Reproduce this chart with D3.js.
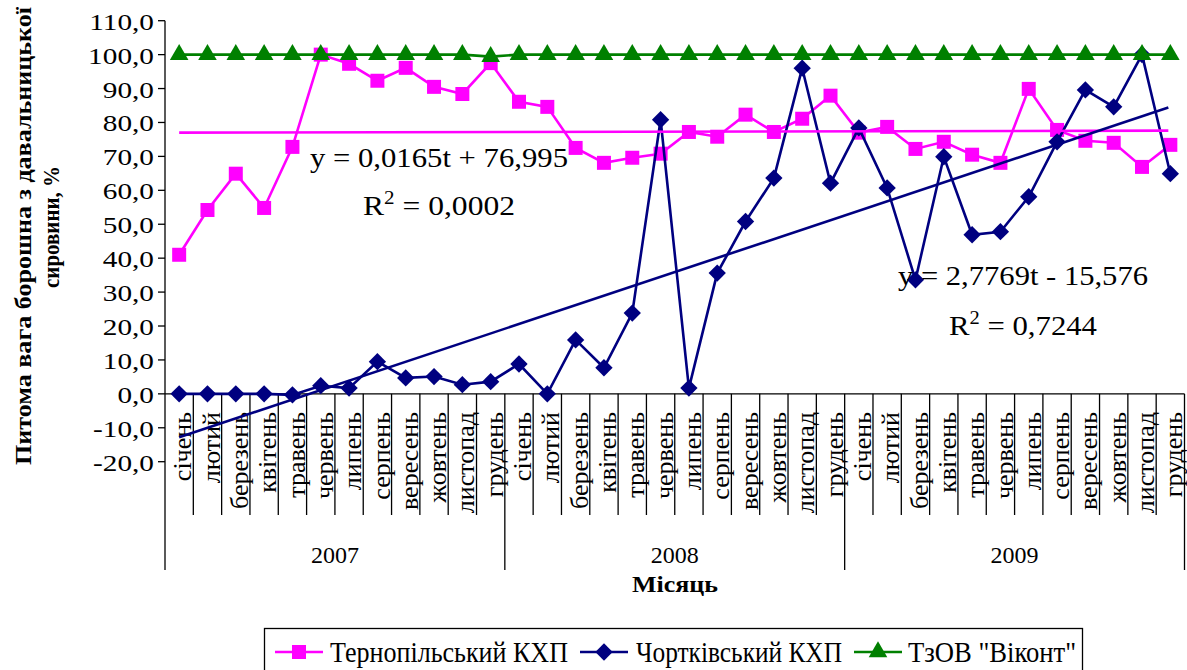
<!DOCTYPE html>
<html>
<head>
<meta charset="utf-8">
<script src="https://cdn.jsdelivr.net/npm/d3@7"></script>
<style>
  html, body { margin: 0; padding: 0; background: #fff; }
  svg { display: block; }
  svg text { font-family: "Liberation Serif", "Tinos", "DejaVu Serif", "Noto Serif", serif; }
</style>
</head>
<body>
<svg id="chart" width="1187" height="670"></svg>
<script>
// ---------------- data ----------------
const months = ["січень","лютий","березень","квітень","травень","червень","липень","серпень","вересень","жовтень","листопад","грудень"];
const years = ["2007","2008","2009"];
const yTicks = [-20,-10,0,10,20,30,40,50,60,70,80,90,100,110];

const ternopil = [41.0,54.2,64.9,54.8,72.8,100.0,97.3,92.3,96.1,90.5,88.4,97.5,
                  86.1,84.6,72.5,68.1,69.6,70.8,77.2,75.8,82.3,77.2,81.1,87.9,
                  77.0,78.7,72.2,74.3,70.5,68.1,89.9,77.8,74.6,74.0,66.9,73.4];
const chortkiv = [0.0,0.0,0.0,0.0,-0.3,2.4,1.7,9.5,4.7,5.1,2.7,3.6,
                  8.8,0.0,15.9,7.7,23.8,80.8,1.7,35.6,50.8,63.6,96.0,62.1,
                  78.4,60.7,33.6,69.9,46.9,47.8,58.1,74.3,89.6,84.6,100.0,64.9];
const vikont   = [100,100,100,100,100,100,100,100,100,100,100,99.4,
                  100,100,100,100,100,100,100,100,100,100,100,100,
                  100,100,100,100,100,100,100,100,100,100,100,100];

const seriesNames = ["Тернопільський КХП","Чортківський КХП","ТзОВ \"Віконт\""];
// printed trend equations y = a*t + b
const trendTernopil = {a: 0.0165, b: 76.995, eq: "y = 0,0165t + 76,995", r2: "0,0002"};
const trendChortkiv = {a: 2.7769, b: -15.576, eq: "y = 2,7769t - 15,576", r2: "0,7244"};

// ---------------- layout ----------------
const svg = d3.select("#chart");
const L = 165, R = 1184.5, T = 20.7, B = 461.7;
const cats = d3.range(months.length * years.length);
const x = d3.scaleBand().domain(cats).range([L, R]).padding(0);
const cx = i => x(i) + x.bandwidth() / 2;
const y = d3.scaleLinear().domain([-20, 110]).range([B, T]);
const fmt = v => d3.format(".1f")(v).replace(".", ",").replace("\u2212", "-");

const colors = {t: "#FF00FF", c: "#000080", v: "#008000"};

// ---------------- axes ----------------
const g = svg.append("g");
g.append("line").attr("x1", L).attr("x2", L).attr("y1", T).attr("y2", 570)
  .attr("stroke", "#000").attr("stroke-width", 1.3);
const yAxisG = g.append("g");
yTicks.forEach(v => {
  yAxisG.append("line").attr("x1", L - 7).attr("x2", L).attr("y1", y(v)).attr("y2", y(v))
    .attr("stroke", "#000").attr("stroke-width", 1.3);
  yAxisG.append("text")
    .attr("transform", `translate(154,${y(v) + 9}) scale(1.22,1)`)
    .attr("text-anchor", "end").attr("font-size", 24).attr("fill", "#000")
    .text(fmt(v));
});
const y0 = y(0);
g.append("line").attr("x1", L).attr("x2", R).attr("y1", y0).attr("y2", y0)
  .attr("stroke", "#000").attr("stroke-width", 1.3);
cats.forEach(i => {
  if (i === 0) return;
  const isYear = i % 12 === 0;
  g.append("line").attr("x1", x(i)).attr("x2", x(i)).attr("y1", y0).attr("y2", isYear ? 570 : 515)
    .attr("stroke", "#000").attr("stroke-width", 1.3);
});
g.append("line").attr("x1", R).attr("x2", R).attr("y1", y0).attr("y2", 570)
  .attr("stroke", "#000").attr("stroke-width", 1.3);
cats.forEach(i => {
  g.append("text")
    .attr("transform", `translate(${cx(i) + 3},412) rotate(-90)`)
    .attr("text-anchor", "end").attr("dy", "0.35em")
    .attr("font-size", 26).attr("fill", "#000")
    .text(months[i % 12]);
});
years.forEach((yr, k) => {
  g.append("text")
    .attr("x", (x(k * 12) + (k === 2 ? R : x(k * 12 + 12))) / 2).attr("y", 563)
    .attr("text-anchor", "middle").attr("font-size", 24).attr("fill", "#000")
    .text(yr);
});
g.append("text").attr("x", 675).attr("y", 592).attr("text-anchor", "middle")
  .attr("font-size", 23).attr("font-weight", "bold").attr("textLength", 86)
  .attr("lengthAdjust", "spacingAndGlyphs").text("Місяць");
g.append("text").attr("transform", "translate(31,236) rotate(-90)")
  .attr("text-anchor", "middle").attr("font-size", 24).attr("font-weight", "bold")
  .attr("textLength", 458).attr("lengthAdjust", "spacingAndGlyphs")
  .text("Питома вага борошна з давальницької");
g.append("text").attr("transform", "translate(59,227) rotate(-90)")
  .attr("text-anchor", "middle").attr("font-size", 24).attr("font-weight", "bold")
  .attr("textLength", 122).attr("lengthAdjust", "spacingAndGlyphs")
  .text("сировини, %");

// ---------------- series ----------------
const line = d3.line().x((d, i) => cx(i)).y(d => y(d));
const wideDiamond = {
  draw(ctx, size) {
    const r = Math.sqrt(size / 2);
    ctx.moveTo(0, -r); ctx.lineTo(r, 0); ctx.lineTo(0, r); ctx.lineTo(-r, 0); ctx.closePath();
  }
};
const sym = {
  t: d3.symbol().type(d3.symbolSquare).size(196),
  c: d3.symbol().type(wideDiamond).size(150),
  v: d3.symbol().type(d3.symbolTriangle).size(150)
};
function drawSeries(data, key) {
  const sg = svg.append("g");
  sg.append("path").datum(data).attr("d", line).attr("fill", "none")
    .attr("stroke", colors[key]).attr("stroke-width", 2.6);
  sg.selectAll("path.m").data(data).join("path").attr("class", "m")
    .attr("transform", (d, i) => `translate(${cx(i)},${y(d)})`)
    .attr("d", sym[key]()).attr("fill", colors[key]);
}
drawSeries(ternopil, "t");
drawSeries(chortkiv, "c");
drawSeries(vikont, "v");

// ---------------- trend lines ----------------
function drawTrend(tr, color) {
  const n = cats.length;
  const pts = [1, n].map(t => [cx(t - 1), y(tr.a * t + tr.b)]);
  svg.append("line").attr("x1", pts[0][0]).attr("y1", pts[0][1])
    .attr("x2", pts[1][0] - 2).attr("y2", pts[1][1])
    .attr("stroke", color).attr("stroke-width", 2.6);
}
drawTrend(trendTernopil, colors.t);
drawTrend(trendChortkiv, colors.c);

function eqLabel(tr, xc, yb1, yb2, w1, w2) {
  svg.append("text").attr("x", xc).attr("y", yb1).attr("text-anchor", "middle")
    .attr("font-size", 27).attr("fill", "#000")
    .attr("textLength", w1).attr("lengthAdjust", "spacingAndGlyphs").text(tr.eq);
  const t2 = svg.append("text").attr("x", xc).attr("y", yb2).attr("text-anchor", "middle")
    .attr("font-size", 27).attr("fill", "#000")
    .attr("textLength", w2).attr("lengthAdjust", "spacingAndGlyphs");
  t2.append("tspan").text("R");
  t2.append("tspan").attr("dy", -11).attr("font-size", 18).text("2");
  t2.append("tspan").attr("dy", 11).text(" = " + tr.r2);
}
eqLabel(trendTernopil, 439, 167, 215, 258, 152);
eqLabel(trendChortkiv, 1023, 285, 335, 250, 148);

// ---------------- legend ----------------
const lg = svg.append("g");
lg.append("rect").attr("x", 264.5).attr("y", 628.5).attr("width", 818).attr("height", 60)
  .attr("fill", "#fff").attr("stroke", "#000").attr("stroke-width", 1.3);
const legendItems = [
  {key: "t", x0: 275, tx: 330, tw: 238},
  {key: "c", x0: 580, tx: 636, tw: 206},
  {key: "v", x0: 854, tx: 908, tw: 168}
];
legendItems.forEach((it, k) => {
  lg.append("line").attr("x1", it.x0).attr("x2", it.x0 + 48).attr("y1", 652).attr("y2", 652)
    .attr("stroke", colors[it.key]).attr("stroke-width", 2.6);
  lg.append("path").attr("transform", `translate(${it.x0 + 24},652)`)
    .attr("d", sym[it.key]()).attr("fill", colors[it.key]);
  lg.append("text").attr("x", it.tx).attr("y", 662).attr("font-size", 29).attr("fill", "#000")
    .attr("textLength", it.tw).attr("lengthAdjust", "spacingAndGlyphs")
    .text(seriesNames[k]);
});
</script>
</body>
</html>
